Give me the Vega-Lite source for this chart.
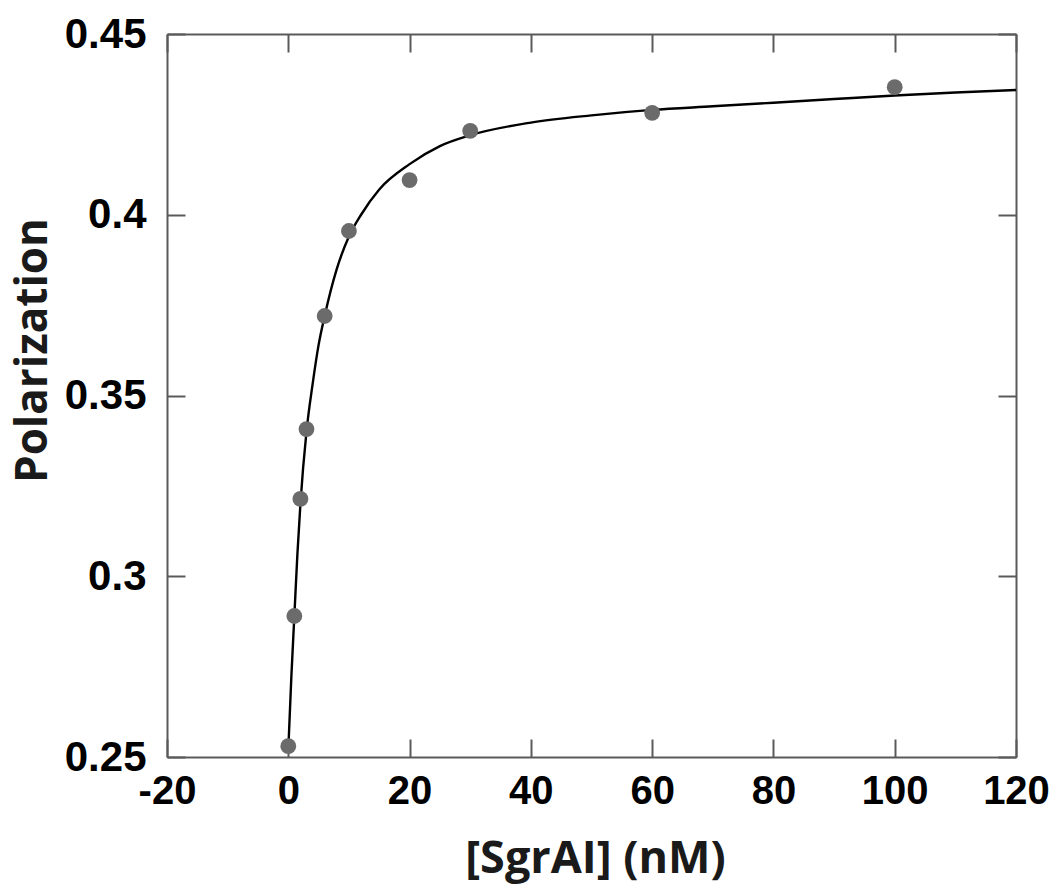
{
  "$schema": "https://vega.github.io/schema/vega-lite/v6.json",
  "width": 849,
  "height": 723,
  "autosize": {"type": "none"},
  "padding": {"left": 167, "top": 34, "right": 34, "bottom": 128},
  "background": "white",
  "config": {"view": {"stroke": null}},
  "layer": [
    {
      "data": {"values": [
        {"x": 0, "y": 0.252}, {"x": 0.5, "y": 0.272}, {"x": 1, "y": 0.289}, {"x": 1.5, "y": 0.306},
        {"x": 2, "y": 0.320}, {"x": 3, "y": 0.340}, {"x": 4, "y": 0.353}, {"x": 5, "y": 0.364},
        {"x": 6, "y": 0.372}, {"x": 8, "y": 0.385}, {"x": 10, "y": 0.394}, {"x": 12, "y": 0.400},
        {"x": 15, "y": 0.407}, {"x": 20, "y": 0.414}, {"x": 25, "y": 0.419}, {"x": 30, "y": 0.422},
        {"x": 40, "y": 0.4255}, {"x": 50, "y": 0.4275}, {"x": 60, "y": 0.429}, {"x": 70, "y": 0.430},
        {"x": 80, "y": 0.431}, {"x": 90, "y": 0.432}, {"x": 100, "y": 0.433}, {"x": 110, "y": 0.4338},
        {"x": 120, "y": 0.4345}
      ]},
      "mark": {"type": "line", "color": "black", "strokeWidth": 2.4, "interpolate": "monotone"},
      "encoding": {
        "x": {"field": "x", "type": "quantitative",
          "scale": {"domain": [-20, 120], "nice": false, "zero": false},
          "axis": {"values": [-20, 0, 20, 40, 60, 80, 100, 120], "orient": "bottom", "grid": false,
            "labelExpr": "datum.value < 0 ? '-' + abs(datum.value) : '' + datum.value",
            "title": "[SgrAI] (nM)", "titleFont": "Open Sans", "titleFontSize": 45, "titleFontWeight": "bold", "titleColor": "#1a1a1a",
            "titleX": 428, "titleY": 101, "titleAlign": "center", "titleBaseline": "middle",
            "labelFont": "Liberation Sans", "labelFontSize": 40, "labelFontWeight": "bold", "labelColor": "black", "labelPadding": 32, "labelFlush": false,
            "tickSize": -18, "tickWidth": 2, "tickColor": "#5a5a5a", "domainColor": "#5a5a5a", "domainWidth": 2}},
        "y": {"field": "y", "type": "quantitative",
          "scale": {"domain": [0.25, 0.45], "nice": false, "zero": false},
          "axis": {"values": [0.25, 0.3, 0.35, 0.4, 0.45], "format": "~g", "orient": "left", "grid": false,
            "title": "Polarization", "titleFont": "Open Sans", "titleFontSize": 44, "titleFontWeight": "bold", "titleColor": "#1a1a1a",
            "titleX": -134, "titleY": 316, "titleAlign": "center", "titleBaseline": "middle", "titleAngle": -90,
            "labelFont": "Liberation Sans", "labelFontSize": 42, "labelFontWeight": "bold", "labelColor": "black", "labelPadding": 39, "labelFlush": false,
            "tickSize": -18, "tickWidth": 2, "tickColor": "#5a5a5a", "domainColor": "#5a5a5a", "domainWidth": 2}}
      }
    },
    {
      "data": {"values": [
        {"x": 0, "y": 0.253}, {"x": 1, "y": 0.289}, {"x": 2, "y": 0.3214}, {"x": 3, "y": 0.3407},
        {"x": 6, "y": 0.372}, {"x": 10, "y": 0.3955}, {"x": 20, "y": 0.4096}, {"x": 30, "y": 0.4232},
        {"x": 60, "y": 0.4282}, {"x": 100, "y": 0.4353}
      ]},
      "mark": {"type": "circle", "color": "#6b6b6b", "opacity": 1, "size": 250},
      "encoding": {
        "x": {"field": "x", "type": "quantitative",
          "axis": {"values": [-20, 0, 20, 40, 60, 80, 100, 120], "orient": "top", "grid": false, "labels": false, "title": null,
            "tickSize": -18, "tickWidth": 2, "tickColor": "#5a5a5a", "domainColor": "#5a5a5a", "domainWidth": 2}},
        "y": {"field": "y", "type": "quantitative",
          "axis": {"values": [0.25, 0.3, 0.35, 0.4, 0.45], "orient": "right", "grid": false, "labels": false, "title": null,
            "tickSize": -18, "tickWidth": 2, "tickColor": "#5a5a5a", "domainColor": "#5a5a5a", "domainWidth": 2}}
      }
    }
  ],
  "resolve": {"axis": {"x": "independent", "y": "independent"}}
}
